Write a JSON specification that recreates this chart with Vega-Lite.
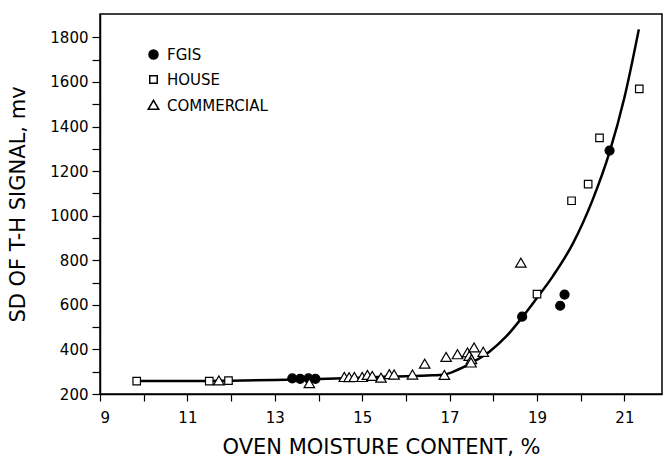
{
  "$schema": "https://vega.github.io/schema/vega-lite/v6.json",
  "width": 562,
  "height": 380,
  "autosize": {"type": "none"},
  "padding": {"left": 100, "top": 14, "right": 3, "bottom": 65},
  "background": "white",
  "config": {
    "font": "DejaVu Sans",
    "view": {"stroke": "black", "strokeWidth": 1.5},
    "axis": {
      "grid": false,
      "domainColor": "black",
      "domainWidth": 1.5,
      "tickColor": "black",
      "tickWidth": 1.2,
      "labelColor": "black",
      "titleColor": "black",
      "labelFont": "DejaVu Sans",
      "titleFont": "DejaVu Sans",
      "labelFontSize": 15,
      "titleFontSize": 21,
      "titleFontWeight": "normal"
    },
    "legend": {
      "labelFont": "DejaVu Sans",
      "labelFontSize": 15,
      "labelColor": "black"
    }
  },
  "datasets": {
    "curve": [
      {"x": 9.85, "y": 258}, {"x": 11, "y": 258}, {"x": 12, "y": 260}, {"x": 13, "y": 263},
      {"x": 14, "y": 267}, {"x": 15, "y": 273}, {"x": 15.5, "y": 277}, {"x": 16, "y": 280},
      {"x": 16.5, "y": 283}, {"x": 16.9, "y": 288}, {"x": 17.2, "y": 310}, {"x": 17.5, "y": 340},
      {"x": 17.91, "y": 390}, {"x": 18.29, "y": 457}, {"x": 18.67, "y": 546},
      {"x": 18.98, "y": 626}, {"x": 19.36, "y": 728}, {"x": 19.82, "y": 875}, {"x": 20.27, "y": 1070},
      {"x": 20.66, "y": 1285}, {"x": 21.0, "y": 1530}, {"x": 21.33, "y": 1836}
    ],
    "points": [
      {"x": 13.4, "y": 270, "group": "FGIS"},
      {"x": 13.58, "y": 268, "group": "FGIS"},
      {"x": 13.77, "y": 270, "group": "FGIS"},
      {"x": 13.93, "y": 268, "group": "FGIS"},
      {"x": 18.66, "y": 547, "group": "FGIS"},
      {"x": 19.53, "y": 596, "group": "FGIS"},
      {"x": 19.63, "y": 646, "group": "FGIS"},
      {"x": 20.66, "y": 1292, "group": "FGIS"},
      {"x": 9.84, "y": 258, "group": "HOUSE"},
      {"x": 11.5, "y": 258, "group": "HOUSE"},
      {"x": 11.94, "y": 260, "group": "HOUSE"},
      {"x": 19.0, "y": 648, "group": "HOUSE"},
      {"x": 19.79, "y": 1067, "group": "HOUSE"},
      {"x": 20.17, "y": 1142, "group": "HOUSE"},
      {"x": 20.43, "y": 1349, "group": "HOUSE"},
      {"x": 21.34, "y": 1569, "group": "HOUSE"},
      {"x": 11.72, "y": 258, "group": "COMMERCIAL"},
      {"x": 13.79, "y": 245, "group": "COMMERCIAL"},
      {"x": 14.59, "y": 273, "group": "COMMERCIAL"},
      {"x": 14.7, "y": 272, "group": "COMMERCIAL"},
      {"x": 14.82, "y": 273, "group": "COMMERCIAL"},
      {"x": 15.0, "y": 273, "group": "COMMERCIAL"},
      {"x": 15.12, "y": 282, "group": "COMMERCIAL"},
      {"x": 15.23, "y": 278, "group": "COMMERCIAL"},
      {"x": 15.43, "y": 270, "group": "COMMERCIAL"},
      {"x": 15.62, "y": 286, "group": "COMMERCIAL"},
      {"x": 15.73, "y": 284, "group": "COMMERCIAL"},
      {"x": 16.15, "y": 284, "group": "COMMERCIAL"},
      {"x": 16.43, "y": 333, "group": "COMMERCIAL"},
      {"x": 16.88, "y": 282, "group": "COMMERCIAL"},
      {"x": 16.92, "y": 363, "group": "COMMERCIAL"},
      {"x": 17.18, "y": 375, "group": "COMMERCIAL"},
      {"x": 17.41, "y": 383, "group": "COMMERCIAL"},
      {"x": 17.45, "y": 368, "group": "COMMERCIAL"},
      {"x": 17.5, "y": 353, "group": "COMMERCIAL"},
      {"x": 17.49, "y": 338, "group": "COMMERCIAL"},
      {"x": 17.56, "y": 406, "group": "COMMERCIAL"},
      {"x": 17.77, "y": 386, "group": "COMMERCIAL"},
      {"x": 18.63, "y": 786, "group": "COMMERCIAL"}
    ]
  },
  "encoding": {
    "x": {
      "field": "x", "type": "quantitative",
      "scale": {"domain": [9, 21.86], "nice": false, "zero": false},
      "axis": {
        "title": "OVEN MOISTURE CONTENT, %",
        "values": [9, 10, 11, 12, 13, 14, 15, 16, 17, 18, 19, 20, 21],
        "labelExpr": "datum.value % 2 == 1 ? datum.label : ''",
        "tickSize": 7,
        "labelPadding": 9,
        "titlePadding": 11
      }
    },
    "y": {
      "field": "y", "type": "quantitative",
      "scale": {"domain": [200, 1905], "nice": false, "zero": false},
      "axis": {
        "title": "SD OF T-H SIGNAL, mv",
        "values": [200, 300, 400, 500, 600, 700, 800, 900, 1000, 1100, 1200, 1300, 1400, 1500, 1600, 1700, 1800],
        "labelExpr": "datum.value % 200 == 0 ? datum.label : ''",
        "format": "d",
        "tickSize": 8,
        "labelPadding": 4,
        "titlePadding": 21
      }
    }
  },
  "layer": [
    {
      "data": {"name": "curve"},
      "mark": {"type": "line", "color": "black", "strokeWidth": 2.5, "interpolate": "monotone"},
      "encoding": {}
    },
    {
      "data": {"name": "points"},
      "mark": {"type": "point", "filled": true, "stroke": "black", "strokeWidth": 1.2, "opacity": 1, "size": 100},
      "encoding": {
        "shape": {
          "field": "group", "type": "nominal",
          "scale": {"domain": ["FGIS", "HOUSE", "COMMERCIAL"], "range": ["M-0.9,0A0.9,0.9,0,1,0,0.9,0A0.9,0.9,0,1,0,-0.9,0Z", "M-0.75,-0.75L0.75,-0.75L0.75,0.75L-0.75,0.75Z", "M-1.05,0.75L1.05,0.75L0,-1.05Z"]},
          "legend": {
            "title": null,
            "orient": "none",
            "legendX": 46,
            "legendY": 33,
            "padding": 0,
            "rowPadding": 9,
            "labelOffset": 6,
            "symbolSize": 100,
            "encode": {"symbols": {"update": {"stroke": {"value": "black"}, "strokeWidth": {"value": 1.2}, "opacity": {"value": 1}}}}
          }
        },
        "fill": {
          "field": "group", "type": "nominal",
          "scale": {"domain": ["FGIS", "HOUSE", "COMMERCIAL"], "range": ["black", "white", "white"]},
          "legend": {
            "title": null,
            "orient": "none",
            "legendX": 46,
            "legendY": 33,
            "padding": 0,
            "rowPadding": 9,
            "labelOffset": 6,
            "symbolSize": 100,
            "encode": {"symbols": {"update": {"stroke": {"value": "black"}, "strokeWidth": {"value": 1.2}, "opacity": {"value": 1}}}}
          }
        }
      }
    }
  ]
}
